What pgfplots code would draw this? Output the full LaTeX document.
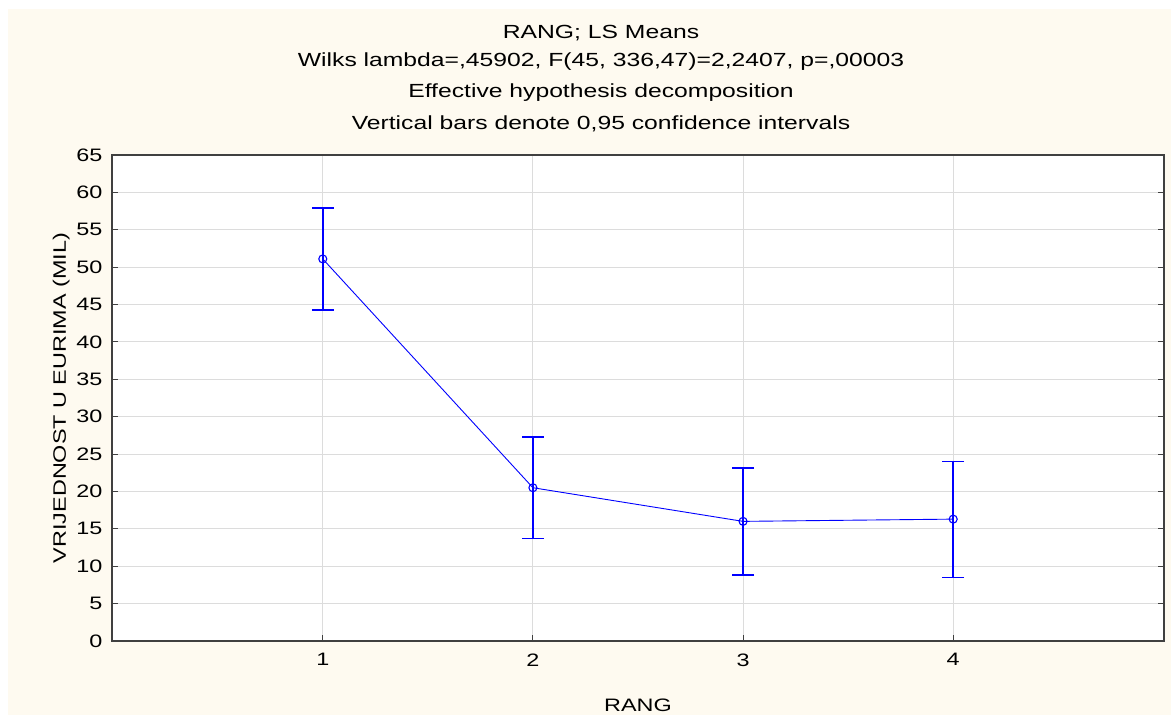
\documentclass[border=0pt]{standalone}
\usepackage{fontspec}
\setmainfont{Liberation Sans}[FakeStretch=1.3]
\usepackage{pgfplots}
\pgfplotsset{compat=1.18}
\definecolor{cream}{HTML}{FEFAF0}
\definecolor{gridgray}{HTML}{DCDCDC}
\definecolor{axgray}{HTML}{404040}
\definecolor{ciblue}{RGB}{0,0,255}
\begin{document}
\begin{tikzpicture}[x=1pt,y=1pt]
  % page background
  \fill[white] (-112,-74) rectangle (1059,641);
  \fill[cream] (-104,-74) rectangle (1059,632);
  % title lines
  \begin{scope}[every node/.style={font=\fontsize{19}{22}\selectfont, text=black}]
    \node at (489,608) {RANG; LS Means};
    \node at (489,579) {Wilks lambda=,45902, F(45, 336,47)=2,2407, p=,00003};
    \node at (489,548) {Effective hypothesis decomposition};
    \node at (489,517) {Vertical bars denote 0,95 confidence intervals};
  \end{scope}
  \begin{axis}[
      at={(0,0)}, anchor=south west,
      scale only axis, width=1052pt, height=486pt,
      xmin=-0.003, xmax=5.003, ymin=0, ymax=65,
      xtick={1,2,3,4}, ytick={0,5,...,65},
      axis background/.style={fill=white},
      axis line style={axgray, line width=1.3pt},
      tick style={axgray, line width=1pt},
      major tick length=6pt,
      tick align=inside, xtick pos=bottom, ytick pos=both,
      yticklabel pos=left,
      grid=major, major grid style={gridgray, line width=1pt},
      tick label style={font=\fontsize{18}{21}\selectfont},
      /pgf/number format/assume math mode=true,
      xlabel={RANG}, ylabel={VRIJEDNOST U EURIMA (MIL)},
      label style={font=\fontsize{18}{21}\selectfont},
      xlabel style={at={(ticklabel cs:0.5)}, yshift=-26pt},
      xticklabel style={yshift=-9pt},
      yticklabel style={xshift=-6pt},
      ci/.style={color=ciblue, line width=1.8pt, line cap=butt,
        mark=-, mark size=11pt,
        mark options={color=ciblue, line width=1.6pt}, forget plot},
    ]
    % 0.95 confidence intervals (lower, upper)
    \addplot[ci] coordinates {(1,44.3) (1,57.9)};
    \addplot[ci] coordinates {(2,13.7) (2,27.3)};
    \addplot[ci] coordinates {(3,8.8) (3,23.1)};
    \addplot[ci] coordinates {(4,8.5) (4,24.0)};
    % means
    \addplot[color=ciblue, line width=0.9pt, mark=o, mark size=4pt,
        mark options={color=ciblue, line width=1.1pt}]
      coordinates {(1,51.1) (2,20.5) (3,16.0) (4,16.3)};
  \end{axis}
\end{tikzpicture}
\end{document}
